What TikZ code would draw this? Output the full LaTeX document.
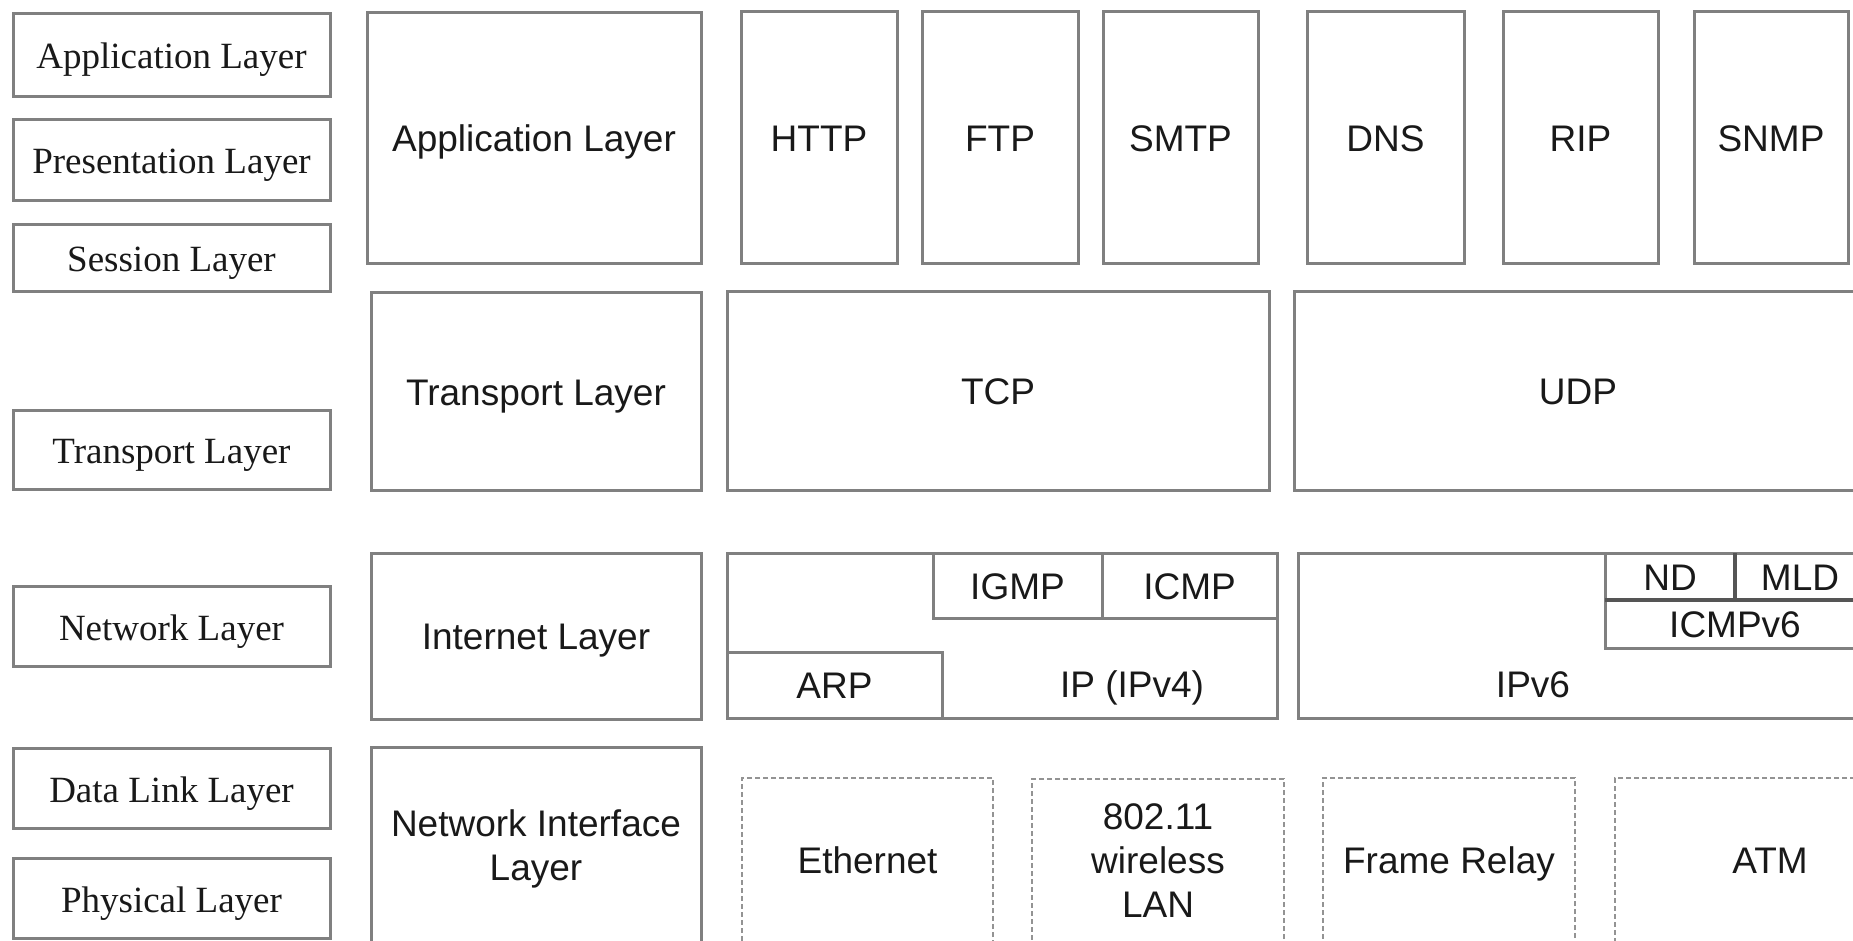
\documentclass[tikz,border=0pt]{standalone}
\usepackage{fontspec}
\setmainfont{Liberation Sans}
\newfontfamily\osifont{Liberation Serif}
\definecolor{lc}{RGB}{128,128,128}
\definecolor{dk}{RGB}{85,85,85}
\definecolor{txt}{RGB}{25,25,25}
\newcommand\bigsz{\fontsize{37}{44}\selectfont}
\begin{document}
\begin{tikzpicture}[x=1pt,y=-1pt,
  box/.style={draw=lc, line width=3pt, rectangle, inner sep=0pt, outer sep=0pt,
    font=\bigsz, text=txt, align=center},
  captxt/.style={text height=27pt, text depth=0pt},
  osibox/.style={box, captxt, font=\osifont\bigsz, minimum width=317pt},
  dbox/.style={box, draw=lc!85, line width=2pt, dash pattern=on 5pt off 3pt},
  darkline/.style={draw=dk, line width=3.5pt},
  lbl/.style={inner sep=0pt, font=\bigsz, text=txt, text height=27pt, text depth=0pt}
]
\useasboundingbox (0,0) rectangle (1853,941);
\begin{scope}
\clip (0,0) rectangle (1853,941);
\fill[white] (0,0) rectangle (1853,941);

% OSI column
\node[osibox, minimum height=83pt] (oapp)   at (171.5,55)  {Application Layer};
\node[osibox, minimum height=81pt] (opres)  at (171.5,160) {Presentation Layer};
\node[osibox, minimum height=67pt] (osess)  at (171.5,258) {Session Layer};
\node[osibox, minimum height=79pt] (otrans) at (171.5,450) {Transport Layer};
\node[osibox, minimum height=80pt] (onet)   at (171.5,626.5)   {Network Layer};
\node[osibox, minimum height=80pt] (odl)    at (171.5,788.5)   {Data Link Layer};
\node[osibox, minimum height=80pt] (ophys)  at (171.5,898.5)   {Physical Layer};

% TCP/IP column
\node[box, captxt, minimum width=334pt, minimum height=251pt] (tapp)   at (534,138)   {Application Layer};
\node[box, captxt, minimum width=330pt, minimum height=198pt] (ttrans) at (536,391.5) {Transport Layer};
\node[box, captxt, minimum width=330pt, minimum height=166pt] (tint)   at (536,636)   {Internet Layer};
\node[box, minimum width=330pt, minimum height=203pt] (tnia)   at (536,849) {Network Interface\\Layer};

% application protocols
\node[box, captxt, minimum width=156pt, minimum height=252pt] (http) at (819,138)    {HTTP};
\node[box, captxt, minimum width=156pt, minimum height=252pt] (ftp)  at (1000,138)   {FTP};
\node[box, captxt, minimum width=155pt, minimum height=252pt] (smtp) at (1180.5,138) {SMTP};
\node[box, captxt, minimum width=157pt, minimum height=252pt] (dns)  at (1385.5,138) {DNS};
\node[box, captxt, minimum width=155pt, minimum height=252pt] (rip)  at (1580.5,138) {RIP};
\node[box, captxt, minimum width=154pt, minimum height=252pt] (snmp) at (1771,138)   {SNMP};

% transport protocols
\node[box, captxt, minimum width=542pt, minimum height=198pt] (tcp) at (998,391)  {TCP};
\node[box, captxt, minimum width=568pt, minimum height=198pt] (udp) at (1578,391) {UDP};

% IPv4 block
\node[box, minimum width=550pt, minimum height=165pt] (ipv4) at (1002,635.5) {};
\node[box, captxt, minimum width=169pt, minimum height=65pt] (igmp) at (1017.5,585.5) {IGMP};
\node[box, captxt, minimum width=175pt, minimum height=65pt] (icmp) at (1189.5,585.5) {ICMP};
\node[box, captxt, minimum width=215pt, minimum height=66pt] (arp)  at (834.5,685)   {ARP};
\node[lbl] (ipv4lbl) at (1132,684) {IP (IPv4)};

% IPv6 block
\node[box, minimum width=572pt, minimum height=165pt] (ipv6) at (1584,635.5) {};
\node[box, captxt, minimum width=130pt, minimum height=47pt] (nd)  at (1670,576.5) {ND};
\node[box, captxt, minimum width=130pt, minimum height=47pt] (mld) at (1800,576.5) {MLD};
\node[box, captxt, minimum width=260pt, minimum height=48pt] (icmpv6) at (1735,624) {ICMPv6};
\draw[darkline] (nd.north east) -- (nd.south east);
\draw[darkline] (nd.south west) -- (mld.south east);
\node[lbl] (ipv6lbl) at (1533,684) {IPv6};

% network interface technologies
\node[dbox, captxt, minimum width=251pt, minimum height=164pt] (eth)  at (867.5,860) {Ethernet};
\node[dbox, minimum width=252pt, minimum height=164pt] (wlan) at (1158,861)  {802.11\\wireless\\LAN};
\node[dbox, captxt, minimum width=252pt, minimum height=164pt] (fr)   at (1449,860)  {Frame Relay};
\node[dbox, captxt, minimum width=310pt, minimum height=164pt] (atm)  at (1770,860)  {ATM};
\end{scope}
\end{tikzpicture}
\end{document}
